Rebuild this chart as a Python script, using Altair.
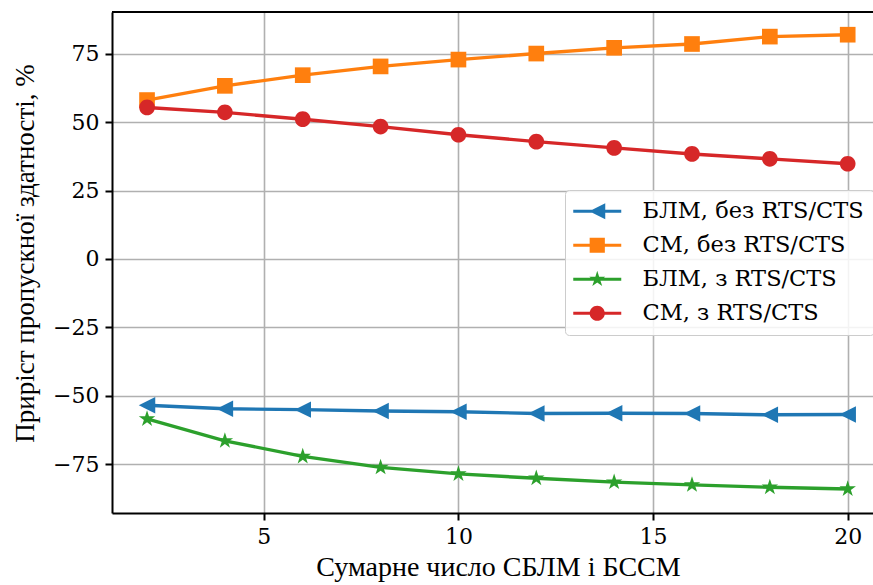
import altair as alt
import pandas as pd

x_vals = [2, 4, 6, 8, 10, 12, 14, 16, 18, 20]
blm_no_rts = [-53.5, -54.8, -55.1, -55.6, -55.9, -56.5, -56.4, -56.5, -57.0, -56.9]
sm_no_rts = [58.1, 63.3, 67.2, 70.4, 72.9, 75.1, 77.2, 78.6, 81.3, 82.0]
blm_rts = [-58.5, -66.5, -72.2, -76.2, -78.6, -80.2, -81.6, -82.6, -83.5, -84.1]
sm_rts = [55.4, 53.6, 51.1, 48.4, 45.4, 42.9, 40.6, 38.4, 36.6, 34.8]

series_names = ["БЛМ, без RTS/CTS", "СМ, без RTS/CTS", "БЛМ, з RTS/CTS", "СМ, з RTS/CTS"]
series_values = [blm_no_rts, sm_no_rts, blm_rts, sm_rts]
colors = ["#1f77b4", "#ff7f0e", "#2ca02c", "#d62728"]

x_title = "Сумарне число СБЛМ і БССМ"
y_title = "Приріст пропускної здатності, %"
x_ticks = [5, 10, 15, 20]
y_ticks = [-75, -50, -25, 0, 25, 50, 75]

# marker shapes (unit paths)
tri = "M-1,0L1,-1L1,1Z"
sq = "M-0.95,-0.95H0.95V0.95H-0.95Z"
star = ("M0,-1.05L0.236,-0.324L0.999,-0.324L0.381,0.124L0.617,0.85L0,0.401"
        "L-0.617,0.85L-0.381,0.124L-0.999,-0.324L-0.236,-0.324Z")
circ = "M-0.95,0A0.95,0.95 0 1,1 0.95,0A0.95,0.95 0 1,1 -0.95,0Z"
markers = [tri, sq, star, circ]
seg = "M-3,-0.2H3V0.2H-3Z"
legend_paths = [seg + m for m in markers]

rows = []
for name, vals in zip(series_names, series_values):
    for xv, yv in zip(x_vals, vals):
        rows.append({"x": xv, "y": yv, "series": name})
df = pd.DataFrame(rows)

SERIF = "DejaVu Serif"
TITLE_FONT = "Liberation Serif"

x_enc = alt.X("x:Q", scale=alt.Scale(domain=[1.1, 20.65], nice=False, zero=False),
              axis=alt.Axis(values=x_ticks, title=x_title, format="d",
                            titleX=386, titleAlign="center", titleFontSize=28))
y_enc = alt.Y("y:Q", scale=alt.Scale(domain=[-92.9, 90.3], nice=False, zero=False),
              axis=alt.Axis(values=y_ticks, title=y_title, format="d",
                            titleX=-79, titleY=241, titleAngle=270, titleAlign="center",
                            titleBaseline="alphabetic", titleFontSize=27))

base = alt.Chart(df)

layers = []
for name, col, m in zip(series_names, colors, markers):
    sub = base.transform_filter(alt.datum.series == name)
    layers.append(sub.mark_line(strokeWidth=3.4, color=col).encode(x=x_enc, y=y_enc))
    layers.append(
        sub.mark_point(filled=True, shape=m, size=272, opacity=1, color=col, strokeWidth=0)
        .encode(x="x:Q", y="y:Q")
    )

legend_layer = base.mark_point(filled=True, opacity=0, size=256).encode(
    x="x:Q", y="y:Q",
    color=alt.Color("series:N", scale=alt.Scale(domain=series_names, range=colors),
                    legend=alt.Legend(title=None, orient="none", legendX=453, legendY=178)),
    shape=alt.Shape("series:N", scale=alt.Scale(domain=series_names, range=legend_paths),
                    legend=alt.Legend(title=None, orient="none", legendX=453, legendY=178)),
)

top_frame = alt.Chart(df).mark_rule(color="black", strokeWidth=2).encode(y=alt.value(0))

chart = alt.layer(*layers, legend_layer, top_frame).properties(
    width=761, height=501,
    autosize=alt.AutoSizeParams(type="none"),
    padding={"left": 112, "top": 12, "right": 0, "bottom": 72},
).configure(
    background="white",
).configure_view(
    stroke=None,
).configure_axis(
    grid=True, gridColor="#b0b0b0", gridWidth=1.6,
    domain=True, domainColor="black", domainWidth=2,
    ticks=True, tickColor="black", tickWidth=2, tickSize=7,
    labelFont=SERIF, labelFontSize=22, labelColor="black",
    titleFont=TITLE_FONT, titleFontWeight="normal", titleColor="black",
).configure_axisX(
    labelPadding=6, titlePadding=6,
).configure_axisY(
    labelPadding=6,
).configure_legend(
    fillColor="rgba(255,255,255,0.85)", strokeColor="#cccccc", cornerRadius=4,
    padding=10, rowPadding=11, symbolSize=256, symbolOffset=11, labelOffset=34,
    symbolOpacity=1, symbolStrokeWidth=0,
    labelFont=SERIF, labelFontSize=22.5, labelColor="black", labelLimit=400,
)

chart.save("out.html", embed_options={"renderer": "svg", "actions": False})
